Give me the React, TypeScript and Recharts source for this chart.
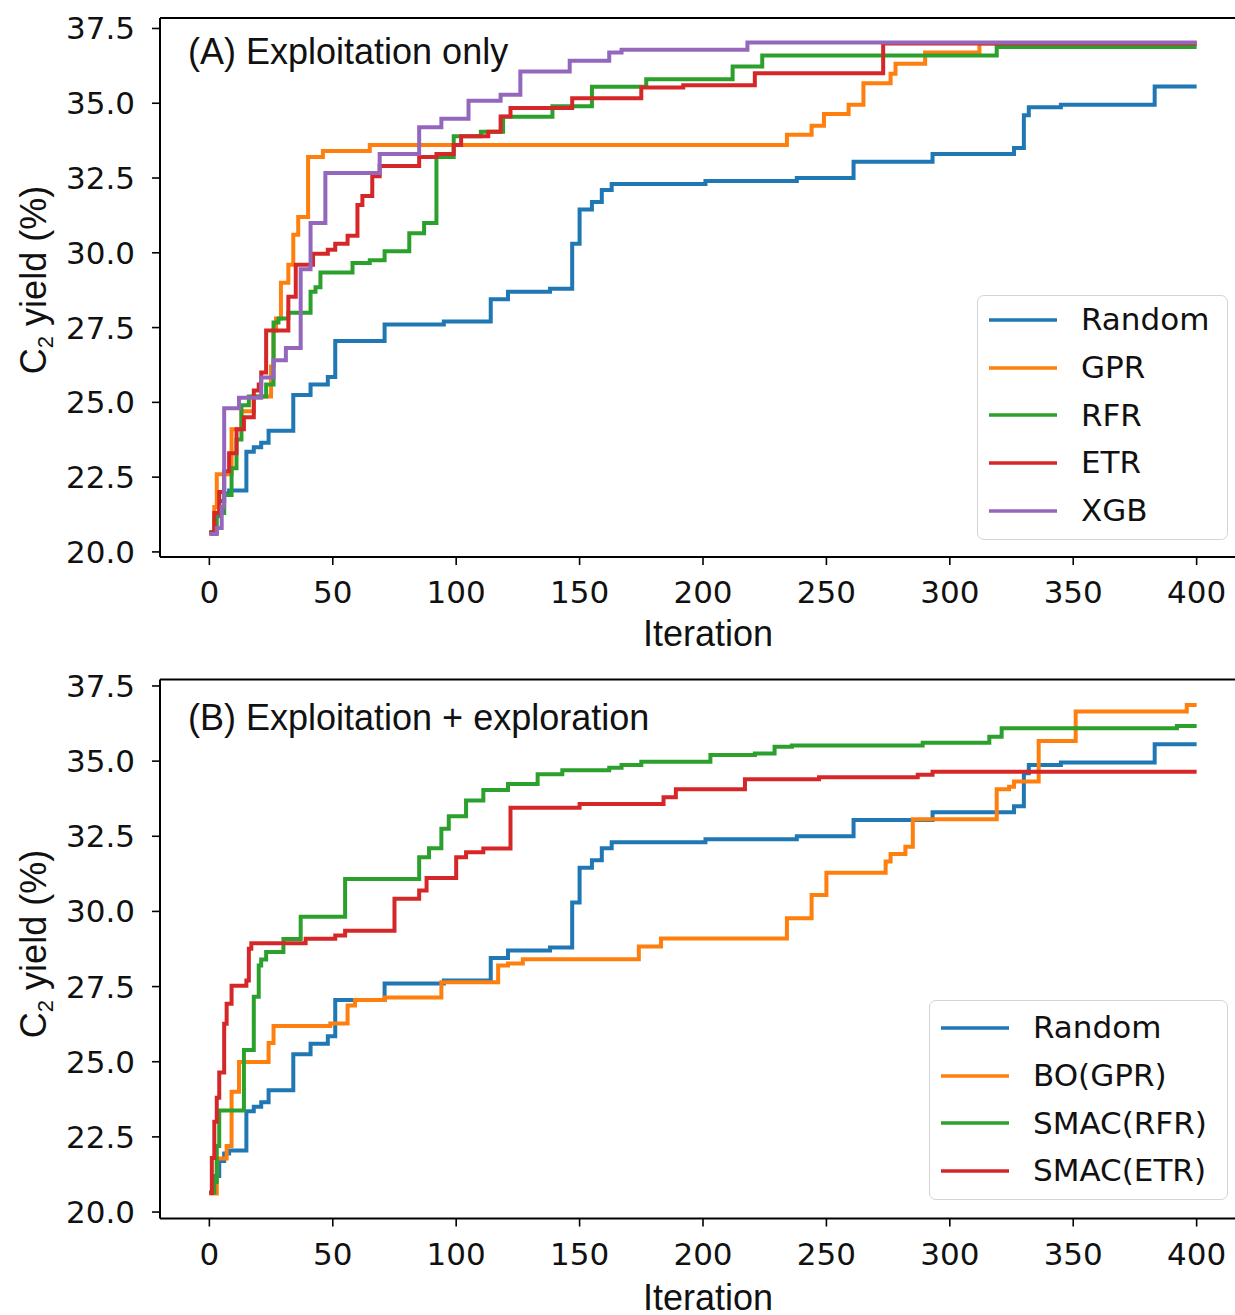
import React from 'react'
import { LineChart, Line, XAxis, YAxis, ReferenceLine, Legend, Label } from 'recharts'

type Step = [number, number]

const iterationTicks = [0, 50, 100, 150, 200, 250, 300, 350, 400]
const yieldTicks = [20, 22.5, 25, 27.5, 30, 32.5, 35, 37.5]

// best-so-far curves, [iteration, C2 yield] at each improvement
const randomSteps: Step[] = [
  [0, 20.65], [2, 21.2], [4, 21.7], [6, 21.95], [8, 22.05], [15, 23.35], [18, 23.5], [21, 23.65],
  [24, 24.05], [34, 25.25], [41, 25.6], [48, 25.85], [51, 27.05], [71, 27.6], [95, 27.7],
  [114, 28.45], [121, 28.7], [138, 28.8], [147, 30.3], [150, 31.45], [155, 31.7], [159, 32.1],
  [163, 32.3], [201, 32.4], [238, 32.5], [261, 33.04], [293, 33.3], [326, 33.5], [330, 34.6],
  [332, 34.87], [345, 34.95], [383, 35.56], [400, 35.56]
]

const gprSteps: Step[] = [
  [0, 20.65], [2, 21.5], [3, 22.6], [9, 24.1], [13, 24.7], [18, 25.2], [25, 26.2], [26, 27.4],
  [27, 27.8], [29, 29.0], [32, 29.6], [34, 30.6], [36, 31.2], [40, 33.2], [46, 33.4], [65, 33.6],
  [234, 33.95], [244, 34.25], [249, 34.64], [259, 34.95], [265, 35.67], [276, 35.99], [278, 36.32],
  [290, 36.7], [312, 37.0], [400, 37.0]
]

const rfrSteps: Step[] = [
  [0, 20.65], [3, 21.3], [6, 21.9], [9, 22.8], [11, 23.76], [13, 24.9], [16, 25.2], [23, 25.6],
  [26, 27.67], [28, 27.8], [32, 28.0], [41, 28.7], [43, 28.85], [45, 29.34], [58, 29.66],
  [65, 29.75], [71, 30.05], [81, 30.65], [87, 31.0], [92, 33.2], [99, 33.9], [110, 34.05],
  [119, 34.55], [139, 34.9], [155, 35.55], [177, 35.8], [212, 36.23], [224, 36.6], [319, 36.88],
  [400, 36.88]
]

const etrSteps: Step[] = [
  [0, 20.65], [2, 21.3], [4, 22.0], [6, 22.7], [8, 23.3], [11, 24.1], [14, 24.5], [18, 25.4],
  [20, 25.6], [21, 26.0], [23, 27.4], [32, 28.53], [35, 29.6], [42, 29.97], [48, 30.1], [51, 30.3],
  [56, 30.57], [60, 31.6], [62, 31.9], [66, 32.56], [69, 32.9], [85, 33.2], [92, 33.3], [99, 33.6],
  [102, 33.9], [113, 34.05], [118, 34.56], [122, 34.84], [147, 35.17], [175, 35.53], [192, 35.6],
  [221, 36.0], [273, 37.0], [400, 37.0]
]

const xgbSteps: Step[] = [
  [0, 20.6], [3, 20.8], [5, 21.5], [6, 24.8], [12, 25.15], [21, 25.83], [26, 26.41], [31, 26.82],
  [37, 29.45], [41, 31.0], [47, 32.67], [69, 33.3], [85, 34.2], [94, 34.48], [105, 35.08],
  [118, 35.28], [126, 36.06], [146, 36.42], [162, 36.7], [167, 36.79], [218, 37.03], [400, 37.03]
]

const boGprSteps: Step[] = [
  [0, 20.62], [3, 21.78], [7, 22.2], [9, 24.0], [12, 24.99], [24, 25.62], [26, 26.19], [49, 26.27],
  [56, 26.87], [59, 27.05], [71, 27.14], [94, 27.64], [117, 28.2], [121, 28.27], [127, 28.41],
  [174, 28.83], [183, 29.1], [234, 29.77], [244, 30.55], [250, 31.29], [274, 31.66], [276, 31.91],
  [282, 32.15], [285, 33.07], [319, 34.06], [324, 34.15], [326, 34.32], [336, 35.67], [351, 36.65],
  [396, 36.87], [400, 36.87]
]

const smacRfrSteps: Step[] = [
  [0, 20.65], [2, 21.0], [3, 22.2], [4, 23.38], [14, 25.39], [18, 27.16], [20, 28.2], [21, 28.4],
  [23, 28.65], [30, 29.08], [37, 29.82], [55, 31.08], [85, 31.8], [89, 32.1], [94, 32.75],
  [97, 33.17], [104, 33.69], [111, 34.04], [121, 34.24], [133, 34.56], [143, 34.7], [162, 34.78],
  [167, 34.87], [175, 34.98], [203, 35.2], [221, 35.25], [229, 35.48], [236, 35.52], [289, 35.61],
  [316, 35.81], [321, 36.09], [392, 36.17], [400, 36.17]
]

const smacEtrSteps: Step[] = [
  [0, 20.63], [1, 21.8], [2, 23.0], [3, 23.8], [4, 24.64], [6, 26.26], [7, 26.93], [9, 27.53],
  [15, 27.7], [16, 28.76], [17, 28.94], [39, 29.09], [51, 29.2], [55, 29.36], [75, 30.42],
  [85, 30.7], [88, 31.11], [100, 31.8], [104, 31.97], [111, 32.09], [122, 33.45], [150, 33.57],
  [184, 33.8], [189, 34.06], [217, 34.4], [247, 34.46], [287, 34.55], [293, 34.65], [400, 34.65]
]

const BLUE = '#1f77b4'
const ORANGE = '#ff7f0e'
const GREEN = '#2ca02c'
const RED = '#d62728'
const PURPLE = '#9467bd'

const tickFont = 'DejaVu Sans'
const labelFont = 'Liberation Sans, Arial'

interface Series {
  name: string
  color: string
  steps: Step[]
}

interface PanelProps {
  title: string
  series: Series[]
  height: number
  marginTop: number
  xAxisHeight: number
  yDomain: [number, number]
  legendBox: { left: number; top: number; width: number; height: number; padTop: number }
  titleDy: number
  yLabelDy: number
  xLabelDy: number
}

const toPoints = (steps: Step[]) => steps.map(([it, v]) => ({ it, v }))

function Panel(p: PanelProps): React.ReactElement {
  const lb = p.legendBox
  const renderLegend = () => (
    <div
      style={{
        width: lb.width,
        height: lb.height,
        boxSizing: 'border-box',
        border: '1.6px solid #d4d4d4',
        borderRadius: 7,
        background: 'rgba(255,255,255,0.85)',
        paddingTop: lb.padTop,
        fontFamily: tickFont,
        fontSize: 31,
        color: '#111'
      }}
    >
      {p.series.map((s) => (
        <div key={s.name} style={{ display: 'flex', alignItems: 'center', height: 47.7 }}>
          <svg width={79} height={10} style={{ flex: 'none' }}>
            <line x1={11} x2={79} y1={5} y2={5} stroke={s.color} strokeWidth={3.4} />
          </svg>
          <span style={{ marginLeft: 24, lineHeight: 1, whiteSpace: 'nowrap' }}>{s.name}</span>
        </div>
      ))}
    </div>
  )

  return (
    <LineChart
      width={1250}
      height={p.height}
      margin={{ top: p.marginTop, right: 4, bottom: 0, left: 0 }}
    >
      <XAxis
        dataKey="it"
        type="number"
        domain={[-20, 420]}
        ticks={iterationTicks}
        interval={0}
        allowDataOverflow
        height={p.xAxisHeight}
        tickSize={8}
        tickMargin={16}
        tick={{ fill: '#111', fontSize: 31, fontFamily: tickFont }}
        tickLine={{ stroke: '#000', strokeWidth: 1.6 }}
        axisLine={{ stroke: '#000', strokeWidth: 2 }}
      >
        <Label
          content={(props: any) => {
            const vb = props.viewBox
            return (
              <text x={vb.x + 548} y={vb.y + p.xLabelDy} textAnchor="middle" fontFamily={labelFont} fontSize={36} fill="#111">
                Iteration
              </text>
            )
          }}
        />
      </XAxis>
      <YAxis
        type="number"
        domain={p.yDomain}
        ticks={yieldTicks}
        interval={0}
        allowDataOverflow
        width={160}
        tickSize={8}
        tickMargin={17}
        tickFormatter={(v: number) => v.toFixed(1)}
        tick={{ fill: '#111', fontSize: 31, fontFamily: tickFont }}
        tickLine={{ stroke: '#000', strokeWidth: 1.6 }}
        axisLine={{ stroke: '#000', strokeWidth: 2 }}
      >
        <Label
          content={(props: any) => {
            const vb = props.viewBox
            const cx = vb.x + 46
            const cy = vb.y + vb.height / 2 + p.yLabelDy
            return (
              <text x={cx} y={cy} transform={`rotate(-90 ${cx} ${cy})`} textAnchor="middle" fontFamily={labelFont} fontSize={36} fill="#111">
                C<tspan fontSize={22} dy={7}>2</tspan>
                <tspan dy={-7}> yield (%)</tspan>
              </text>
            )
          }}
        />
      </YAxis>
      <ReferenceLine
        y={p.yDomain[1]}
        stroke="#000"
        strokeWidth={2}
        label={
          <Label
            content={(props: any) => {
              const vb = props.viewBox
              return (
                <text x={vb.x + 28} y={vb.y + p.titleDy} fontFamily={labelFont} fontSize={36} fill="#111">
                  {p.title}
                </text>
              )
            }}
          />
        }
      />
      {p.series.map((s) => (
        <Line
          key={s.name}
          data={toPoints(s.steps)}
          dataKey="v"
          name={s.name}
          type="stepAfter"
          stroke={s.color}
          strokeWidth={4}
          dot={false}
          activeDot={false}
          isAnimationActive={false}
        />
      ))}
      <Legend
        layout="vertical"
        align="center"
        verticalAlign="middle"
        content={renderLegend}
        wrapperStyle={{ left: lb.left, top: lb.top, width: lb.width, height: lb.height }}
      />
    </LineChart>
  )
}

const seriesA: Series[] = [
  { name: 'Random', color: BLUE, steps: randomSteps },
  { name: 'GPR', color: ORANGE, steps: gprSteps },
  { name: 'RFR', color: GREEN, steps: rfrSteps },
  { name: 'ETR', color: RED, steps: etrSteps },
  { name: 'XGB', color: PURPLE, steps: xgbSteps }
]

const seriesB: Series[] = [
  { name: 'Random', color: BLUE, steps: randomSteps },
  { name: 'BO(GPR)', color: ORANGE, steps: boGprSteps },
  { name: 'SMAC(RFR)', color: GREEN, steps: smacRfrSteps },
  { name: 'SMAC(ETR)', color: RED, steps: smacEtrSteps }
]

export default function App(): React.ReactElement {
  return (
    <div style={{ position: 'absolute', top: 0, left: 0, width: 1235, height: 1315, overflow: 'hidden', background: '#fff' }}>
      <Panel
        title="(A) Exploitation only"
        series={seriesA}
        height={659}
        marginTop={18}
        xAxisHeight={102}
        yDomain={[19.83, 37.85]}
        legendBox={{ left: 977, top: 295, width: 251, height: 245, padTop: 0 }}
        titleDy={46}
        yLabelDy={-7.5}
        xLabelDy={89}
      />
      <Panel
        title="(B) Exploitation + exploration"
        series={seriesB}
        height={656}
        marginTop={20.5}
        xAxisHeight={96.5}
        yDomain={[19.785, 37.715]}
        legendBox={{ left: 929, top: 341, width: 299, height: 200, padTop: 3 }}
        titleDy={50.5}
        yLabelDy={-5}
        xLabelDy={91.5}
      />
    </div>
  )
}
